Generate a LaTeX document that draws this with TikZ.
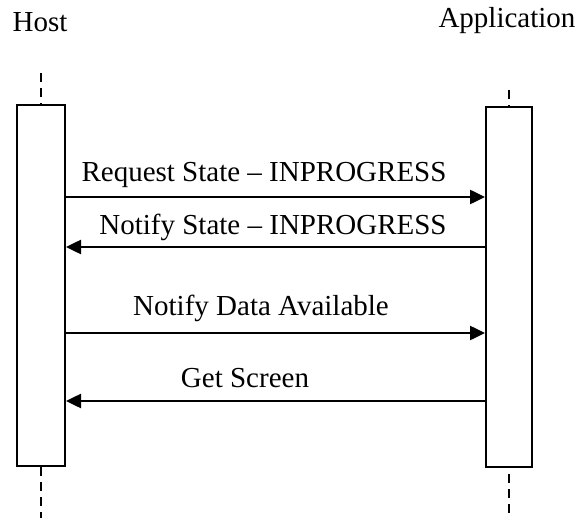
\documentclass[tikz,border=0pt]{standalone}
\usepackage{fontspec}
\setmainfont{Liberation Serif}
\usetikzlibrary{arrows.meta}
\begin{document}
\begin{tikzpicture}[x=1pt,y=-1pt,
  lbl/.style={font=\fontsize{29}{34}\selectfont, inner sep=0pt, anchor=base},
  actbox/.style={draw, line width=2pt, inner sep=0pt, minimum width=48pt},
  life/.style={line width=2pt, dash pattern=on 9pt off 6pt},
  msg/.style={line width=2.5pt, -{Triangle[length=15pt,width=14pt]}}]
\useasboundingbox (0,0) rectangle (577,518);
\node[lbl] (host) at (40,32) {Host};
\node[lbl] (app) at (507,28) {Application};
\node[actbox, minimum height=361pt] (hb) at (41,285.5) {};
\node[actbox, minimum width=46pt, minimum height=360pt] (ab) at (509,287) {};
\coordinate (ht) at (41,73);
\coordinate (hbot) at (41,518);
\coordinate (at) at (509,90);
\coordinate (abot) at (509,518);
\draw[life] (ht) -- (hb.north);
\draw[life] (hb.south) -- (hbot);
\draw[life] (at) -- (ab.north);
\draw[life] ([yshift=-6pt]ab.south) -- (abot);
\draw[msg] (hb.east |- 0,197) -- (ab.west |- 0,197);
\node[lbl] (m1) at (264,182) {Request State – INPROGRESS};
\draw[msg] (ab.west |- 0,247) -- (hb.east |- 0,247);
\node[lbl] (m2) at (273,235) {Notify State – INPROGRESS};
\draw[msg] (hb.east |- 0,333) -- (ab.west |- 0,333);
\node[lbl] (m3) at (261,315) {Notify Data Available};
\draw[msg] (ab.west |- 0,401) -- (hb.east |- 0,401);
\node[lbl] (m4) at (245,387) {Get Screen};
\end{tikzpicture}
\end{document}
